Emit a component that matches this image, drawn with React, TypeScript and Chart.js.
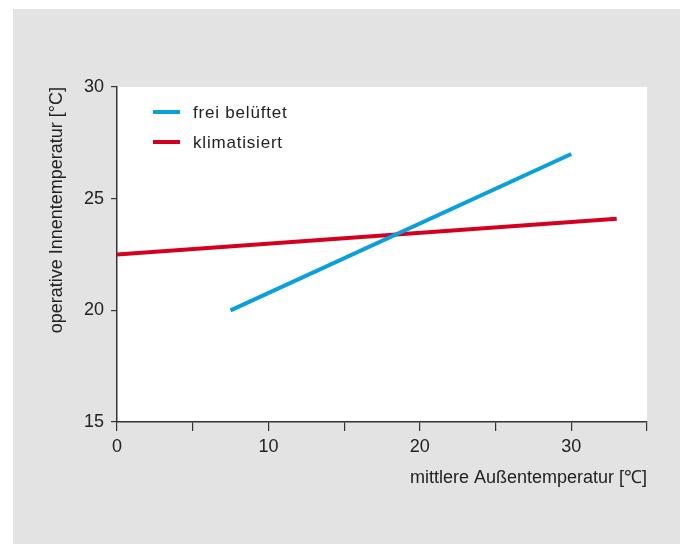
import React, { useEffect, useRef } from "react";
import { Chart, registerables } from "chart.js";

Chart.register(...registerables);

const seriesLabels = ["frei belüftet", "klimatisiert"];
const seriesColors = ["#0a9fdd", "#d4001f"];
const freiX = [7.5, 30];
const freiY = [20, 27];
const klimaX = [0, 33];
const klimaY = [22.5, 24.1];
const xMin = 0;
const xMax = 35;
const yMin = 15;
const yMax = 30;
const xTitle = "mittlere Außentemperatur [℃]";
const yTitle = "operative Innentemperatur [°C]";

const FONT = "'Liberation Sans', Arial, sans-serif";

const plotBg = {
  id: "plotBg",
  beforeDraw(chart: any) {
    const { ctx, chartArea } = chart;
    ctx.save();
    ctx.fillStyle = "#ffffff";
    ctx.fillRect(chartArea.left, chartArea.top, chartArea.right - chartArea.left, chartArea.bottom - chartArea.top);
    ctx.restore();
  },
};

const innerLegend = {
  id: "innerLegend",
  afterDraw(chart: any) {
    const { ctx, chartArea } = chart;
    ctx.save();
    chart.data.datasets.forEach((ds: any, i: number) => {
      const y = chartArea.top + 25 + i * 30;
      ctx.strokeStyle = ds.borderColor;
      ctx.lineWidth = 4;
      ctx.beginPath();
      ctx.moveTo(chartArea.left + 36, y);
      ctx.lineTo(chartArea.left + 63, y);
      ctx.stroke();
      ctx.fillStyle = "#222";
      ctx.font = `17px ${FONT}`;
      try {
        (ctx as any).letterSpacing = "0.8px";
      } catch (e) {}
      ctx.textBaseline = "middle";
      ctx.textAlign = "left";
      ctx.fillText(ds.label, chartArea.left + 76, y + 1);
    });
    ctx.restore();
  },
};

export default function App() {
  const ref = useRef<HTMLCanvasElement | null>(null);
  useEffect(() => {
    if (!ref.current) return;
    const chart = new Chart(ref.current, {
      type: "scatter",
      data: {
        datasets: [
          {
            label: seriesLabels[0],
            data: freiX.map((x, i) => ({ x, y: freiY[i] })),
            borderColor: seriesColors[0],
            backgroundColor: seriesColors[0],
            showLine: true,
            borderWidth: 4,
            pointRadius: 0,
          },
          {
            label: seriesLabels[1],
            data: klimaX.map((x, i) => ({ x, y: klimaY[i] })),
            borderColor: seriesColors[1],
            backgroundColor: seriesColors[1],
            showLine: true,
            borderWidth: 4,
            pointRadius: 0,
          },
        ],
      },
      options: {
        responsive: false,
        animation: false,
        devicePixelRatio: 1,
        layout: { padding: { left: 29, right: 33, top: 78, bottom: 51 } },
        plugins: { legend: { display: false }, tooltip: { enabled: false } },
        scales: {
          x: {
            type: "linear",
            min: xMin,
            max: xMax,
            afterFit(scale: any) {
              scale.height = 71;
            },
            border: { display: true, color: "#333", width: 1.5 },
            grid: { drawOnChartArea: false, drawTicks: true, tickLength: 9, color: "#333", lineWidth: 1.2 },
            ticks: {
              stepSize: 5,
              padding: 5,
              color: "#222",
              font: { family: FONT, size: 18 },
              maxRotation: 0,
              callback: (v: any) => (Number(v) % 10 === 0 ? String(v) : ""),
            },
            title: {
              display: true,
              text: xTitle,
              align: "end",
              color: "#222",
              font: { family: FONT, size: 18 },
              padding: { top: 4, bottom: 4 },
            },
          },
          y: {
            type: "linear",
            min: yMin,
            max: yMax,
            afterFit(scale: any) {
              scale.width = 75;
            },
            border: { display: true, color: "#333", width: 1.5 },
            grid: { drawOnChartArea: false, drawTicks: true, tickLength: 6, color: "#333", lineWidth: 1.2 },
            ticks: {
              stepSize: 5,
              padding: 7,
              color: "#222",
              font: { family: FONT, size: 18 },
            },
            title: {
              display: true,
              text: yTitle,
              align: "end",
              color: "#222",
              font: { family: FONT, size: 18 },
              padding: { top: 4, bottom: 4 },
            },
          },
        },
      },
      plugins: [plotBg, innerLegend],
    });
    return () => chart.destroy();
  }, []);
  return (
    <div style={{ position: "absolute", left: 13, top: 9, width: 667, height: 535, background: "#e2e3e2" }}>
      <canvas ref={ref} width={667} height={535} style={{ display: "block" }} />
    </div>
  );
}
